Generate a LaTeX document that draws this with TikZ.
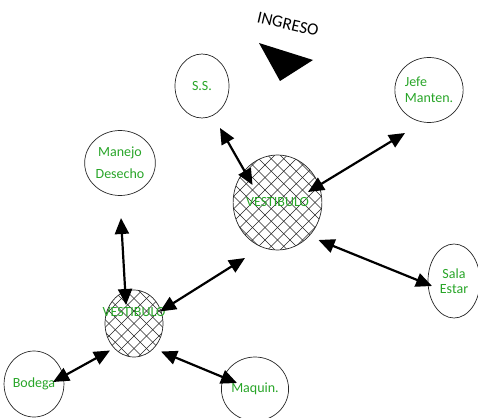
\documentclass[tikz,border=0pt]{standalone}
\usepackage{fontspec}
\setmainfont{Carlito}
\usetikzlibrary{arrows.meta,shapes.geometric}
\definecolor{txtgreen}{RGB}{40,165,40}
\begin{document}
\begin{tikzpicture}[x=1pt,y=-1pt,
  room/.style={ellipse, draw=black!85, line width=0.7pt, inner sep=0pt,
    text=txtgreen, font=\fontsize{14}{16}\selectfont, align=center},
  hatch/.style={path picture={
    \foreach \i in {-10,...,10}{
      \draw[line width=0.5pt] ([shift={(\i*12.5pt-70pt,-70pt)}]path picture bounding box.center) -- ++(140pt,140pt);
      \draw[line width=0.5pt] ([shift={(\i*12.5pt-70pt,70pt)}]path picture bounding box.center) -- ++(140pt,-140pt);
    }}},
  arr/.style={{Triangle[length=16pt,width=14pt]}-{Triangle[length=16pt,width=14pt]}, line width=2.2pt}
]
\path[use as bounding box] (0,0) rectangle (478,417);

% title and entrance mark
\node[font=\fontsize{17}{19}\selectfont, rotate=-13, inner sep=0pt] (ingreso) at (288,24) {INGRESO};
\fill (259,43) -- (313,60) -- (280,81) -- cycle;

% rooms
\node[room, minimum width=54pt, minimum height=64pt] (ss) at (202,86) {S.S.};
\node[room, minimum width=54pt, minimum height=65pt, align=left] (jefe) at (429,90) {Jefe\\Manten.};
\node[room, minimum width=54pt, minimum height=65pt, font=\fontsize{14}{19}\selectfont] (manejo) at (120,163) {\raisebox{-4pt}{\parbox{50pt}{\centering Manejo\\[3pt]Desecho}}};
\node[room, hatch, minimum width=85pt, minimum height=95pt] (bigv) at (277.5,202.5) {VESTIBULO};
\node[room, hatch, minimum width=58pt, minimum height=67pt,
      label={[text=txtgreen, font=\fontsize{14}{16}\selectfont, yshift=11pt]center:VESTIBULO}] (smallv) at (134,323.5) {};
\node[room, minimum width=56pt, minimum height=66pt] (bodega) at (34,384) {Bodega};
\node[room, minimum width=56pt, minimum height=64pt] (maquin) at (255,389) {Maquin.};
\node[room, minimum width=52pt, minimum height=74pt, font=\fontsize{14}{15}\selectfont] (sala) at (454,281) {Sala\\Estar};

% connectors
\draw[arr] ([shift={(18,42)}]ss.center) -- ([shift={(-25,-17.5)}]bigv.center);
\draw[arr] ([shift={(-24,43)}]jefe.center) -- ([shift={(30.5,-10.5)}]bigv.center);
\draw[arr] ([shift={(-22,5)}]sala.center) -- ([shift={(41,37.5)}]bigv.center);
\draw[arr] ([shift={(1,55)}]manejo.center) -- ([shift={(-8,-18.5)}]smallv.center);
\draw[arr] ([shift={(-32.5,55.5)}]bigv.center) -- ([shift={(26,-12)}]smallv.center);
\draw[arr] ([shift={(19,-2)}]bodega.center) -- ([shift={(-24,27)}]smallv.center);
\draw[arr] ([shift={(-18,-6)}]maquin.center) -- ([shift={(27,28)}]smallv.center);
\end{tikzpicture}
\end{document}
